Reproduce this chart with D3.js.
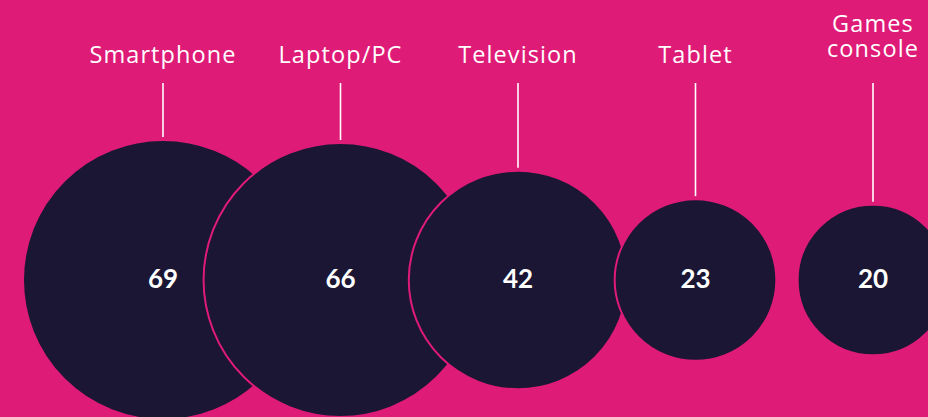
<!DOCTYPE html>
<html>
<head>
<meta charset="utf-8">
<script src="https://cdn.jsdelivr.net/npm/d3@7"></script>
<style>
  html, body { margin: 0; padding: 0; background: #DF1B78; overflow: hidden; }
  svg { display: block; }
</style>
</head>
<body>
<div id="chart"></div>
<script>
const categories = ["Smartphone", "Laptop/PC", "Television", "Tablet", "Games console"];
const labelLines = [["Smartphone"], ["Laptop/PC"], ["Television"], ["Tablet"], ["Games", "console"]];
const values = [69, 66, 42, 23, 20];

const width = 928, height = 417;
const pink = "#DF1B78", navy = "#1A1633";

const svg = d3.select("#chart").append("svg")
  .attr("width", width).attr("height", height);

svg.append("rect").attr("width", width).attr("height", height).attr("fill", pink);

const x = d3.scalePoint().domain(categories).range([163, 873]);
const r = d3.scaleSqrt().domain([0, 69]).range([0, 140]);
const cy = 280;

const data = categories.map((c, i) => ({ cat: c, value: values[i], lines: labelLines[i] }));

// connector lines
svg.selectAll("line.conn").data(data).join("line")
  .attr("class", "conn")
  .attr("x1", d => x(d.cat)).attr("x2", d => x(d.cat))
  .attr("y1", 83).attr("y2", d => cy - r(d.value) - 3)
  .attr("stroke", "#ffffff").attr("stroke-width", 1.6);

// circles
svg.selectAll("circle").data(data).join("circle")
  .attr("cx", d => x(d.cat)).attr("cy", cy)
  .attr("r", d => r(d.value))
  .attr("fill", navy)
  .attr("stroke", pink).attr("stroke-width", 2);

// value labels
svg.selectAll("text.val").data(data).join("text")
  .attr("class", "val")
  .attr("x", d => x(d.cat)).attr("y", cy - 1)
  .attr("dy", "0.35em")
  .attr("text-anchor", "middle")
  .attr("fill", "#ffffff")
  .attr("font-family", "Lato, sans-serif")
  .attr("font-weight", 700)
  .attr("font-size", 26)
  .text(d => d.value);

// category labels
const lab = svg.selectAll("text.cat").data(data).join("text")
  .attr("class", "cat")
  .attr("text-anchor", "middle")
  .attr("fill", "#ffffff")
  .attr("font-family", "'Open Sans', sans-serif")
  .attr("font-weight", 400)
  .attr("font-size", 23.5)
  .attr("letter-spacing", 1.1);

lab.each(function(d) {
  const t = d3.select(this);
  const n = d.lines.length;
  const lastBase = n > 1 ? 57 : 63;
  d.lines.forEach((line, j) => {
    t.append("tspan")
      .attr("x", x(d.cat))
      .attr("y", lastBase - (n - 1 - j) * 25)
      .text(line);
  });
});
</script>
</body>
</html>
